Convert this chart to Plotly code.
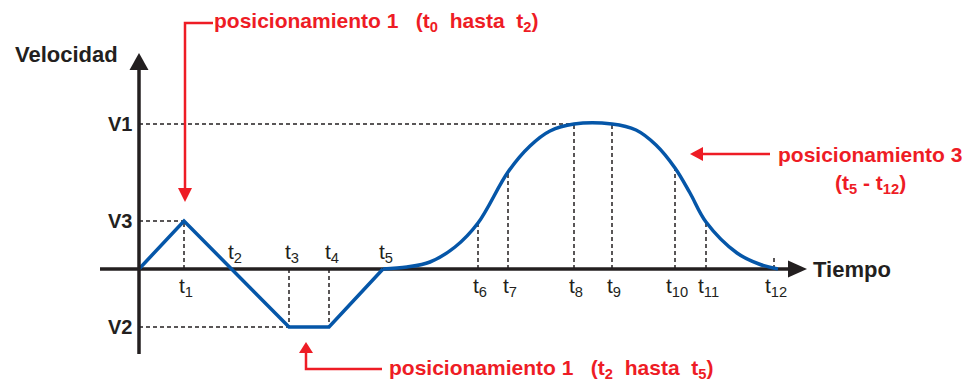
import plotly.graph_objects as go

# time marks (units = px offset from the velocity axis) and velocity levels
t_names = ["1", "2", "3", "4", "5", "6", "7", "8", "9", "10", "11", "12"]
t_vals = [45, 93, 150, 190, 244, 339, 369, 435, 473, 536, 567, 635]
V1, V3, V2 = 145, 48, -58

# trapezoid / triangle part (t0 .. t5)
lin_t = [0, 45, 150, 190, 244]
lin_v = [0, 48, -58, -58, 0]

# S-curve part (t5 .. t12)
s_t = [244, 268, 291, 316, 339, 369, 391, 411, 435, 473, 497, 517, 536, 551, 567, 598, 620, 639]
s_v = [0, 2, 7, 22, 46, 97, 123, 138, 145, 145, 139, 124, 101, 76, 47, 16, 5, 0]

# dashed drop lines: (time, velocity at curve)
drops_t = [45, 150, 190, 339, 369, 435, 473, 536, 567]
drops_v = [48, -58, -58, 46, 97, 145, 145, 101, 47]

RED = "#ee1c25"
BLUE = "#0556a8"
INK = "#231f20"

fig = go.Figure()
fig.add_trace(go.Scatter(x=lin_t, y=lin_v, mode="lines",
                         line=dict(color=BLUE, width=3.5), hoverinfo="skip"))
fig.add_trace(go.Scatter(x=s_t, y=s_v, mode="lines",
                         line=dict(color=BLUE, width=3.5, shape="spline", smoothing=1.0),
                         hoverinfo="skip"))

dash = dict(color=INK, width=1.5, dash="4px,3px")
shapes = []
for t, v in zip(drops_t, drops_v):
    shapes.append(dict(type="line", x0=t, x1=t, y0=0, y1=v, line=dash, layer="below"))
shapes.append(dict(type="line", x0=t_vals[11], x1=t_vals[11], y0=0, y1=12, line=dash, layer="below"))
# horizontal guides to the V levels
shapes.append(dict(type="line", x0=0, x1=t_vals[7], y0=V1, y1=V1, line=dash, layer="below"))
shapes.append(dict(type="line", x0=0, x1=t_vals[0], y0=V3, y1=V3, line=dash, layer="below"))
shapes.append(dict(type="line", x0=0, x1=t_vals[2], y0=V2, y1=V2, line=dash, layer="below"))

# axes with arrow heads
shapes.append(dict(type="line", x0=0, x1=0, y0=-85, y1=200, line=dict(color=INK, width=3.5)))
shapes.append(dict(type="path", path="M -9.5 199 L 0 216 L 9.5 199 Z",
                   fillcolor=INK, line=dict(width=0)))
shapes.append(dict(type="line", x0=-39, x1=650, y0=0, y1=0, line=dict(color=INK, width=3.5),
                   layer="below"))
shapes.append(dict(type="path", path="M 649 8.5 L 668 0 L 649 -8.5 Z",
                   fillcolor=INK, line=dict(width=0)))

# red callouts
red = dict(color=RED, width=2.5)
shapes.append(dict(type="path", path="M 74 246 L 46 246 L 46 81", line=red))
shapes.append(dict(type="path", path="M 39 81 L 46 67 L 53 81 Z", fillcolor=RED, line=dict(width=0)))
shapes.append(dict(type="path", path="M 243 -100 L 167 -100 L 167 -84", line=red))
shapes.append(dict(type="path", path="M 160 -84 L 167 -73 L 174 -84 Z", fillcolor=RED, line=dict(width=0)))
shapes.append(dict(type="line", x0=631, x1=563, y0=115, y1=115, line=red))
shapes.append(dict(type="path", path="M 564 122 L 551 115 L 564 108 Z", fillcolor=RED, line=dict(width=0)))

bold = dict(family="Liberation Sans", size=20, color=INK)
big = dict(family="Liberation Sans", size=22, color=INK)
redf = dict(family="Liberation Sans", size=21, color=RED)
tf = dict(family="Liberation Sans", size=21, color=INK)

ann = []
def txt(x, y, s, font, xa="center", ya="middle"):
    ann.append(dict(x=x, y=y, text=s, showarrow=False, font=font, xanchor=xa, yanchor=ya,
                    xref="x", yref="y"))

txt(-126, 215, "<b>Velocidad</b>", big, xa="left")
txt(672, 0, "<b>Tiempo</b>", big, xa="left")
txt(-5, V1, "<b>V1</b>", bold, xa="right")
txt(-5, V3, "<b>V3</b>", bold, xa="right")
txt(-5, V2, "<b>V2</b>", bold, xa="right")

above = {"2", "3", "4", "5"}
for n, t in zip(t_names, t_vals):
    s = "t<sub>" + n + "</sub>"
    if n in above:
        txt(t + 3, 1, s, tf, ya="bottom")
    else:
        txt(t + 2, -3, s, tf, ya="top")

sp = "\u00a0"
txt(73, 247, "<b>posicionamiento 1" + sp * 3 + "(t<sub>0</sub>" + sp * 2 + "hasta" + sp * 2
    + "t<sub>2</sub>)</b>", redf, xa="left")
txt(248, -100, "<b>posicionamiento 1" + sp * 3 + "(t<sub>2</sub>" + sp * 2 + "hasta" + sp * 2
    + "t<sub>5</sub>)</b>", redf, xa="left")
txt(731, 115, "<b>posicionamiento 3</b>", redf)
txt(731, 85, "<b>(t<sub>5</sub> - t<sub>12</sub>)</b>", redf)

# the page body has an 8px margin, so the figure is 8px smaller and ranges start 8px in
fig.update_layout(
    width=966, height=374,
    margin=dict(l=0, r=0, t=0, b=0),
    paper_bgcolor="white", plot_bgcolor="white",
    showlegend=False,
    xaxis=dict(range=[-131, 835], visible=False, fixedrange=True),
    yaxis=dict(range=[-113, 261], visible=False, fixedrange=True),
    shapes=shapes, annotations=ann,
)

fig.write_html("out.html")
